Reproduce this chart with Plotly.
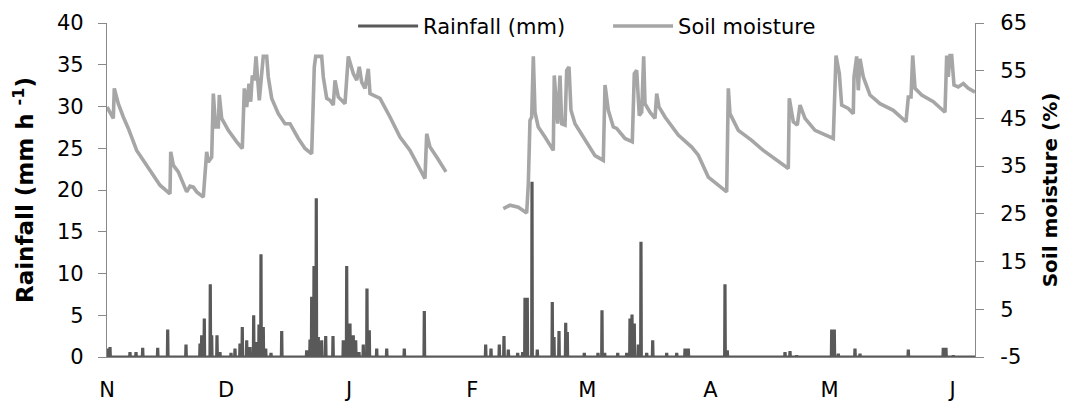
import pandas as pd
import plotly.graph_objects as go

START = pd.Timestamp("2011-11-01")
END_DAY = 218.65

# Soil moisture (%), right axis: day since 1 Nov, value (None marks the data gap)
sm_day = [0.0, 1.59, 1.84, 2.85, 4.11, 5.37, 7.48, 10.40, 13.35, 15.87, 16.05, 16.70, 17.96,
          20.08, 20.91, 21.74, 22.60, 24.26, 25.11, 25.52, 26.37, 26.78, 27.38, 28.04, 28.29,
          28.89, 30.56, 32.67, 34.08, 34.59, 35.19, 35.77, 36.20, 36.60, 37.10, 37.53, 37.96,
          38.36, 38.97, 39.37, 40.23, 40.63, 41.49, 43.15, 44.84, 46.10, 48.19, 49.88, 51.56,
          52.22, 52.57, 54.08, 54.49, 55.34, 56.17, 57.00, 57.43, 58.26, 59.95, 60.78, 62.04,
          62.90, 63.55, 64.16, 64.99, 65.82, 66.25, 68.77, 71.29, 73.81, 76.33, 78.42, 80.10,
          80.53, 81.36, 83.05, 85.39,
          92.0,
          99.83, 101.52, 103.61, 105.72, 106.13, 106.55, 106.98, 107.39, 107.81, 108.64, 110.33,
          112.42, 112.67, 113.53, 114.11, 114.54, 115.37, 115.80, 116.38, 116.88, 117.89, 120.41,
          122.93, 125.02, 125.45, 126.28, 127.54, 128.39, 130.48, 132.32, 132.83, 133.43, 134.09,
          134.69, 135.19, 135.52, 136.78, 138.04, 138.47, 139.05, 140.56, 143.91, 147.29, 148.95,
          151.47, 156.10, 156.51, 156.93, 159.03, 162.40, 165.32, 171.62, 171.87, 172.88, 173.89,
          174.57, 175.83, 178.35, 182.95, 183.64, 184.47, 185.07, 186.73, 187.99, 188.17, 188.85,
          189.25, 189.68, 190.51, 192.20, 194.72, 198.07, 201.27, 201.85, 202.53, 202.96, 203.54,
          205.22, 208.15, 211.09, 211.52, 211.92, 212.35, 212.78, 213.36, 214.44, 215.71, 216.97,
          218.65]
sm_val = [47.4, 45.0, 51.3, 48.1, 45.3, 42.9, 38.3, 34.5, 31.0, 29.2, 38.0, 35.2, 33.8,
          29.6, 30.8, 30.6, 29.6, 28.5, 38.0, 35.9, 36.9, 50.2, 43.2, 43.2, 49.9,
          45.0, 42.5, 40.1, 38.7, 51.3, 47.4, 52.3, 48.5, 54.0, 53.0, 58.0, 52.3,
          48.8, 54.4, 58.0, 58.0, 53.7, 49.2, 46.0, 43.9, 43.9, 40.8, 38.7, 37.6,
          55.8, 58.0, 58.0, 53.7, 49.2, 48.8, 47.8, 53.0, 49.5, 48.1, 58.0, 54.4,
          53.0, 55.8, 52.6, 51.3, 55.4, 50.2, 49.2, 45.3, 41.1, 38.3, 34.8, 32.4,
          41.8, 39.0, 36.9, 33.8,
          None,
          26.1, 26.8, 26.4, 25.2, 31.3, 44.6, 45.3, 58.0, 46.3, 43.2, 41.1,
          38.3, 54.0, 43.9, 54.0, 43.9, 43.6, 55.1, 55.8, 46.7, 43.9, 40.4,
          37.2, 36.2, 52.0, 46.7, 43.2, 42.9, 40.8, 40.1, 54.4, 55.1, 45.6,
          46.3, 58.0, 48.1, 46.3, 45.0, 50.2, 47.4, 45.3, 41.5, 39.0, 37.3,
          32.7, 29.6, 51.3, 46.0, 42.5, 40.4, 38.3, 34.5, 49.2, 44.3, 43.6,
          47.8, 45.0, 42.5, 40.8, 58.2, 54.4, 47.8, 47.1, 46.0, 53.7, 58.0,
          50.9, 57.5, 53.7, 49.9, 48.1, 46.7, 44.3, 49.5, 49.5, 58.2, 51.3,
          49.9, 48.5, 46.3, 58.2, 53.7, 58.2, 58.2, 52.0, 51.6, 52.3, 51.3,
          50.5]

# Rainfall events (mm h-1), left axis: day since 1 Nov, peak intensity
rain_day = [0.25, 0.76, 5.79, 7.31, 8.99, 12.77, 15.29, 19.90, 23.43, 23.85, 24.51, 26.02,
            26.37, 27.71, 28.46, 31.24, 32.24, 33.50, 34.08, 35.19, 36.02, 36.95, 37.71, 38.29,
            38.79, 39.37, 39.98, 41.31, 44.01, 50.30, 51.14, 51.56, 52.14, 52.72, 53.23, 54.08,
            55.09, 56.93, 59.52, 60.38, 61.21, 62.04, 62.65, 63.48, 64.56, 65.49, 66.07, 67.94,
            70.46, 74.89, 79.93, 95.39, 96.73, 98.82, 100.00, 101.09, 103.45, 104.71, 105.29,
            105.87, 107.06, 108.39, 112.17, 112.60, 113.86, 115.55, 115.95, 120.23, 123.68,
            124.69, 125.37, 128.65, 130.91, 131.74, 132.25, 132.83, 133.84, 134.51, 135.95,
            137.46, 140.99, 143.51, 145.60, 146.43, 155.67, 156.25, 170.79, 172.05, 173.73,
            182.55, 183.21, 184.22, 188.42, 189.68, 201.85, 210.66, 211.34, 213.18, 215.71]
rain_val = [1.0, 1.2, 0.6, 0.6, 1.1, 1.1, 3.3, 1.5, 1.6, 2.6, 4.6, 8.7,
            2.6, 2.6, 0.6, 0.5, 1.0, 1.6, 3.6, 2.0, 1.2, 5.0, 1.8, 3.9,
            12.3, 3.6, 1.0, 0.5, 3.1, 0.8, 2.1, 7.2, 10.9, 19.0, 2.4, 2.0,
            2.5, 2.5, 2.0, 10.9, 4.0, 2.6, 2.0, 0.6, 1.5, 8.2, 3.2, 1.0,
            1.0, 1.0, 5.5, 1.5, 1.0, 1.5, 2.5, 0.9, 0.5, 0.6, 7.1,
            7.1, 21.0, 0.9, 6.6, 2.4, 3.1, 4.1, 3.0, 0.5, 0.5,
            5.6, 0.5, 0.5, 0.5, 4.6, 5.1, 4.0, 1.5, 13.8, 0.5,
            2.0, 0.5, 0.5, 1.0, 1.0, 8.7, 0.8, 0.6, 0.7, 0.2,
            3.3, 3.3, 0.4, 1.0, 0.4, 0.9, 1.1, 1.1, 0.2, 0.1]

month_labels = ["N", "D", "J", "F", "M", "A", "M", "J"]
month_starts = pd.date_range("2011-11-01", periods=len(month_labels), freq="MS")

sm_ticks = [-5, 5, 15, 25, 35, 45, 55, 65]
sm_tick_labels = ["-5", "5", "15", "25", "35", "45", "55", "65"]

# rainfall is zero between the events
rx, ry = [0.0], [0.0]
for d, v in zip(rain_day, rain_val):
    rx += [d - 0.08, d, d + 0.08]
    ry += [0.0, v, 0.0]
rx.append(END_DAY)
ry.append(0.0)

def to_dates(days):
    return [START + pd.Timedelta(days=d) for d in days]

font_family = "DejaVu Sans"
axis_grey = "#898989"

fig = go.Figure()
fig.add_trace(go.Scatter(
    x=to_dates(rx), y=ry, mode="lines", name="Rainfall (mm)",
    line=dict(color="#595959", width=3.2), yaxis="y"))
fig.add_trace(go.Scatter(
    x=to_dates(sm_day), y=sm_val, mode="lines", name="Soil moisture",
    line=dict(color="#A6A6A6", width=3.6), yaxis="y2", connectgaps=False))

fig.update_layout(
    width=1071, height=405,
    margin=dict(l=107, r=96, t=23, b=48, autoexpand=False),
    paper_bgcolor="white", plot_bgcolor="white",
    font=dict(family=font_family, size=21, color="black"),
    showlegend=True,
    legend=dict(orientation="h", x=0.2835, xanchor="left", y=0.99, yanchor="middle",
                bgcolor="rgba(0,0,0,0)", font=dict(size=21), itemwidth=60,
                entrywidth=180, entrywidthmode="pixels", traceorder="normal"),
    xaxis=dict(type="date", range=[START, START + pd.Timedelta(days=END_DAY)],
               tickmode="array", tickvals=month_starts, ticktext=month_labels,
               showgrid=False, zeroline=False, showline=True, linecolor=axis_grey,
               linewidth=1.3, ticks="", tickfont=dict(size=21), ticklabelstandoff=14,
               automargin=False),
    yaxis=dict(range=[0, 40], dtick=5, showgrid=False, zeroline=False,
               showline=True, linecolor=axis_grey, linewidth=1.3,
               ticks="outside", ticklen=8, tickcolor=axis_grey, tickwidth=1.3,
               tickfont=dict(size=21), ticklabelstandoff=10, automargin=False,
               title=dict(text="<b>Rainfall (mm h <sup>-1</sup>)</b>", font=dict(size=23),
                          standoff=16)),
    yaxis2=dict(range=[-5, 65], tickmode="array", tickvals=sm_ticks,
                ticktext=sm_tick_labels, overlaying="y", side="right",
                showgrid=False, zeroline=False, showline=True, linecolor=axis_grey,
                linewidth=1.3, ticks="outside", ticklen=8, tickcolor=axis_grey,
                tickwidth=1.3, tickfont=dict(size=21), ticklabelstandoff=12,
                automargin=False,
                title=dict(text="<b>Soil moisture (%)</b>", font=dict(size=20),
                           standoff=16)),
)

fig.write_html("out.html")
